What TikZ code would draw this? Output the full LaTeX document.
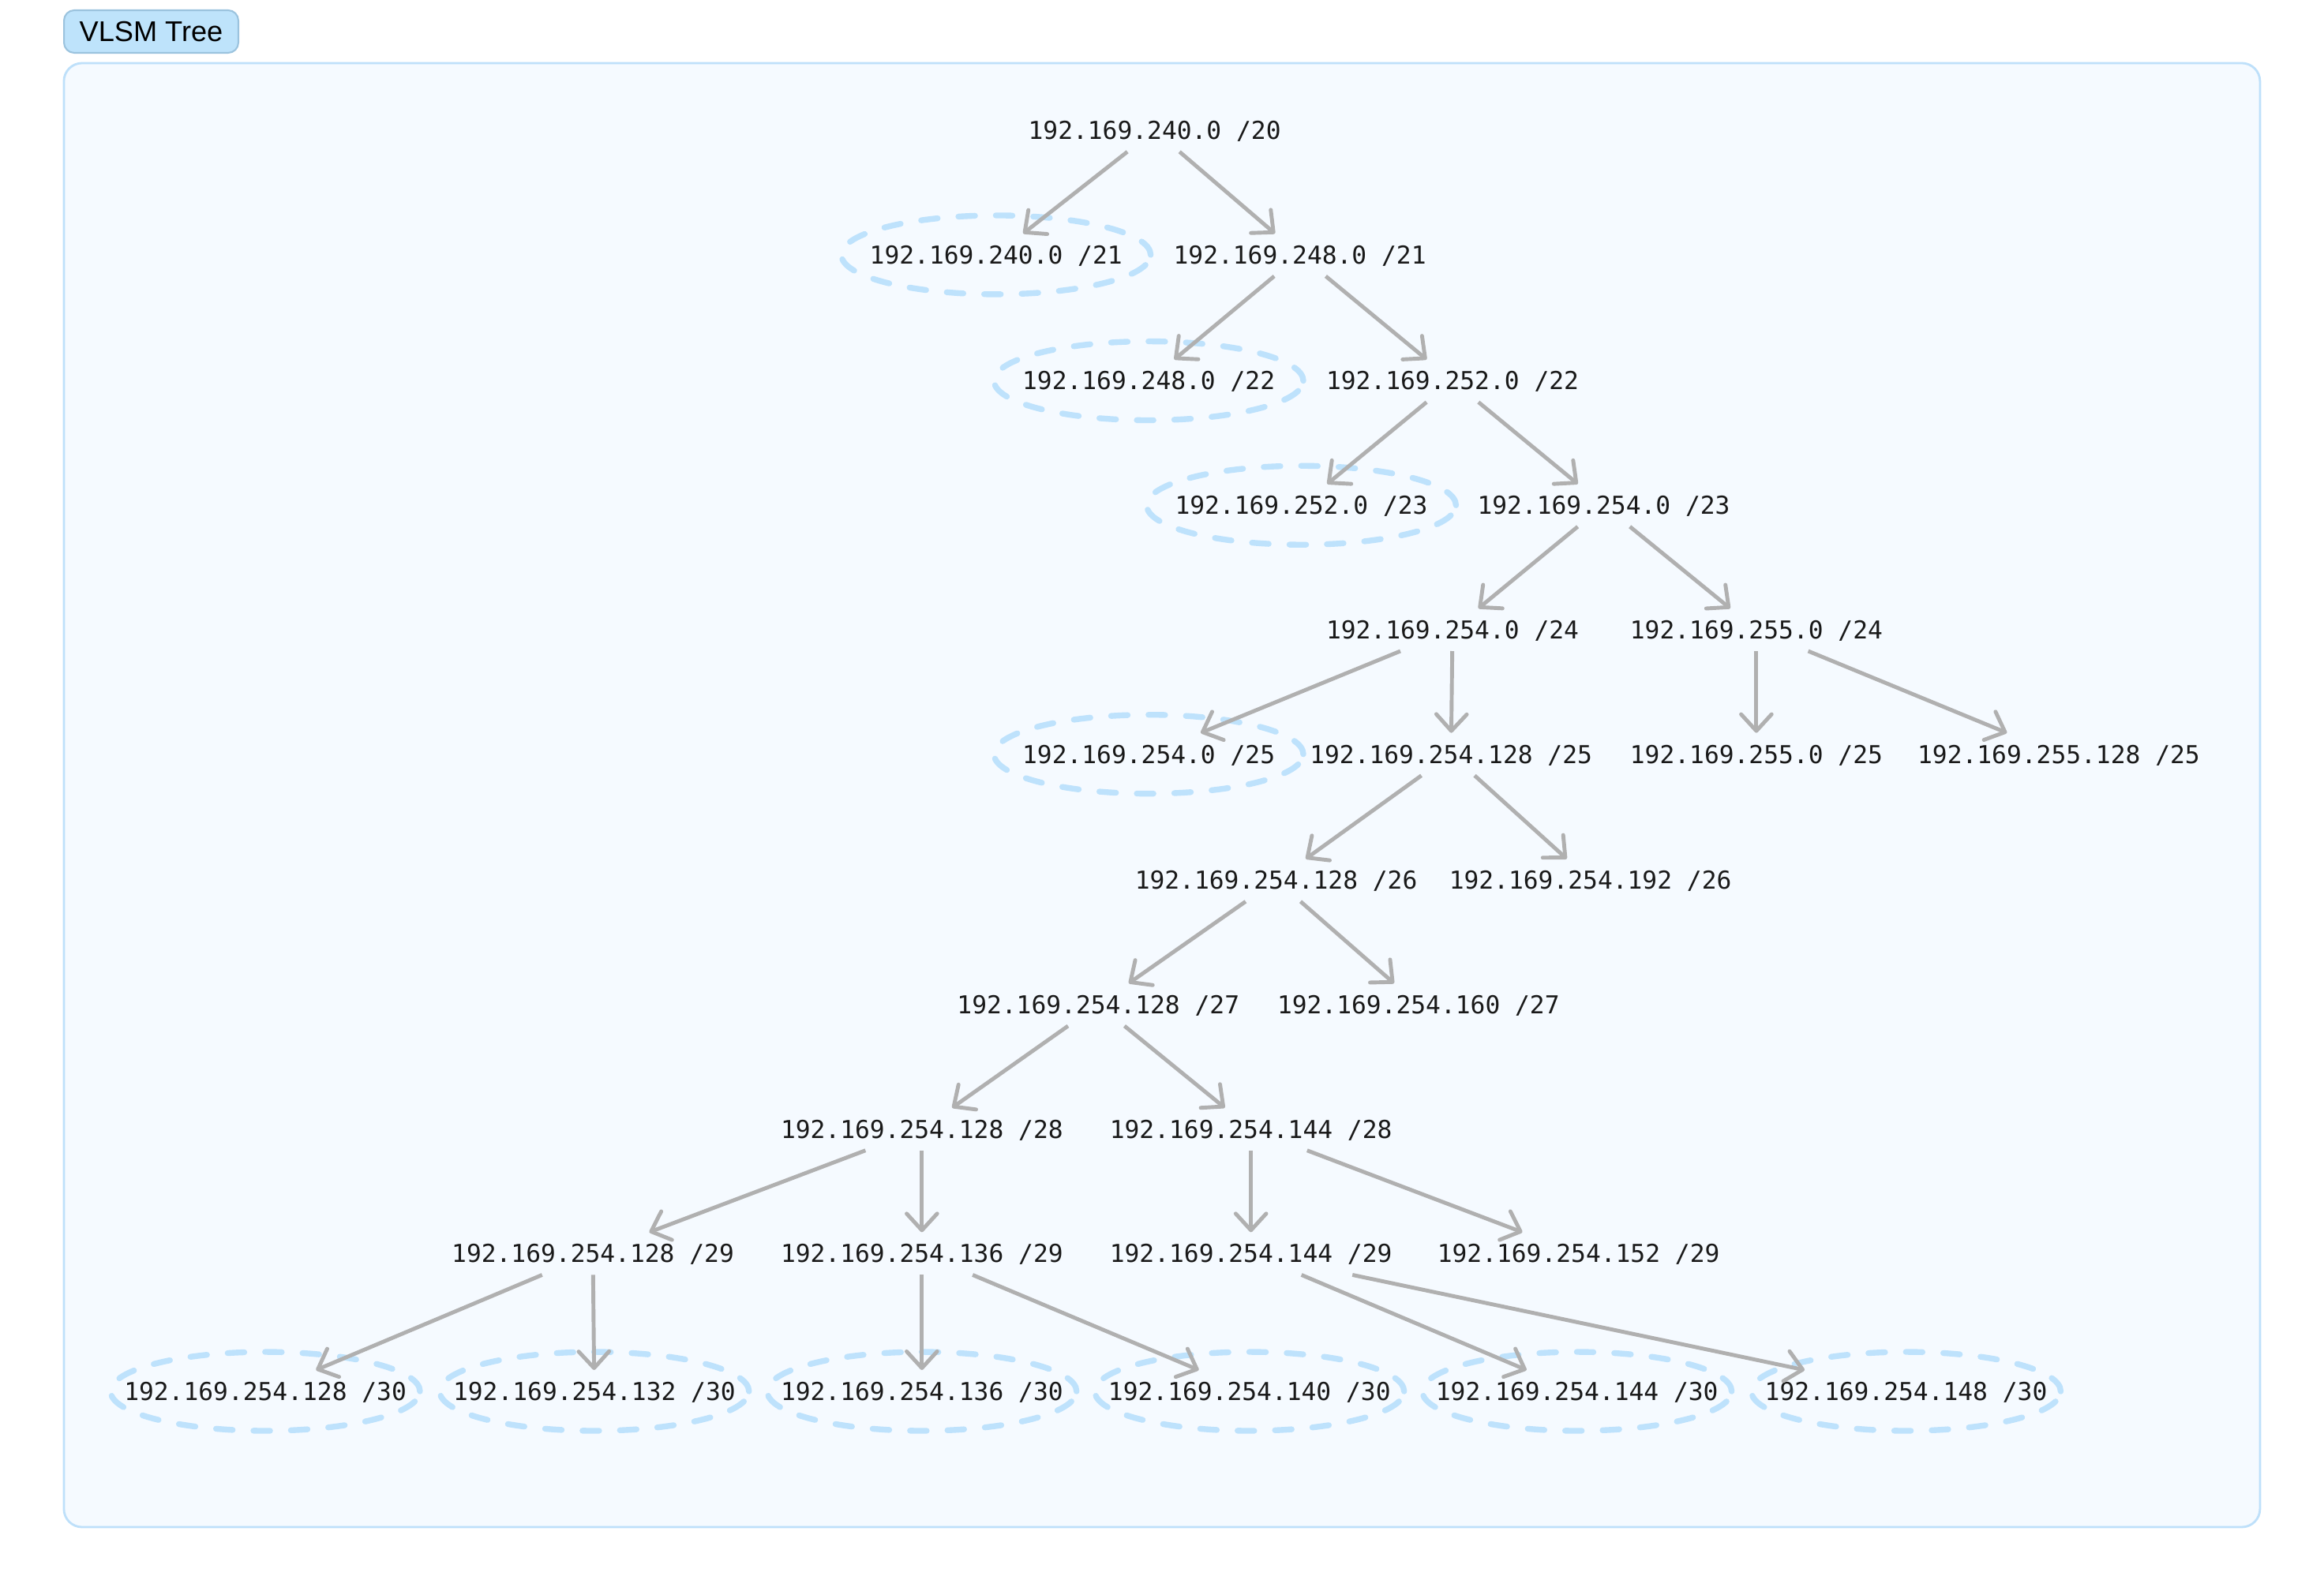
\documentclass[tikz,border=0pt]{standalone}
\usepackage{fontspec}
\setmainfont{Liberation Sans}
\newfontfamily\addrfont{DejaVu Sans Mono}
\usetikzlibrary{arrows.meta}
\definecolor{framefill}{RGB}{245,250,255}
\definecolor{frameline}{RGB}{190,224,250}
\definecolor{badgefill}{RGB}{190,227,251}
\definecolor{badgeline}{RGB}{155,195,222}
\definecolor{ringblue}{RGB}{190,226,252}
\definecolor{edgegray}{RGB}{176,176,176}
\definecolor{addrtext}{RGB}{25,25,25}
\begin{document}
\begin{tikzpicture}[x=0.018776cm,y=-0.018776cm,
    addr/.style={font=\addrfont\fontsize{8.9pt}{10pt}\selectfont,text=addrtext,inner xsep=1pt,inner ysep=0pt,text height=6.5pt,text depth=0pt,minimum height=15pt},
    link/.style={edgegray,line width=1.4pt,-{Straight Barb[round,length=6pt,width=11pt]}},
    ring/.style={ringblue,line width=2.1pt,dash pattern=on 6pt off 7.5pt,line cap=round},
    badge/.style={fill=badgefill,draw=badgeline,line width=0.6pt,rounded corners=0.13cm,minimum width=2.21cm,minimum height=0.54cm,inner sep=0pt,font=\fontsize{10.3pt}{12pt}\selectfont}]
  \useasboundingbox (0,0) rectangle (1568,1073.7);
  % panel and title
  \draw[frameline,fill=framefill,line width=0.8pt,rounded corners=0.23cm] (43.1,42.6) rectangle (1524.8,1030.6);
  \node[badge] (title) at (102,21.3) {VLSM Tree};
  % address blocks, one row per prefix length
  \node[addr] (r20) at (779,88) {192.169.240.0 /20};
  \node[addr] (a21) at (672,172) {192.169.240.0 /21};
  \node[addr] (b21) at (877,172) {192.169.248.0 /21};
  \node[addr] (a22) at (775,257) {192.169.248.0 /22};
  \node[addr] (b22) at (980,257) {192.169.252.0 /22};
  \node[addr] (a23) at (878,341) {192.169.252.0 /23};
  \node[addr] (b23) at (1082,341) {192.169.254.0 /23};
  \node[addr] (a24) at (980,425) {192.169.254.0 /24};
  \node[addr] (b24) at (1185,425) {192.169.255.0 /24};
  \node[addr] (a25) at (775,509) {192.169.254.0 /25};
  \node[addr] (b25) at (979,509) {192.169.254.128 /25};
  \node[addr] (c25) at (1185,509) {192.169.255.0 /25};
  \node[addr] (d25) at (1389,509) {192.169.255.128 /25};
  \node[addr] (a26) at (861,594) {192.169.254.128 /26};
  \node[addr] (b26) at (1073,594) {192.169.254.192 /26};
  \node[addr] (a27) at (741,678) {192.169.254.128 /27};
  \node[addr] (b27) at (957,678) {192.169.254.160 /27};
  \node[addr] (a28) at (622,762) {192.169.254.128 /28};
  \node[addr] (b28) at (844,762) {192.169.254.144 /28};
  \node[addr] (a29) at (400,846) {192.169.254.128 /29};
  \node[addr] (b29) at (622,846) {192.169.254.136 /29};
  \node[addr] (c29) at (844,846) {192.169.254.144 /29};
  \node[addr] (d29) at (1065,846) {192.169.254.152 /29};
  \node[addr] (a30) at (179,939) {192.169.254.128 /30};
  \node[addr] (b30) at (401,939) {192.169.254.132 /30};
  \node[addr] (c30) at (622,939) {192.169.254.136 /30};
  \node[addr] (d30) at (843,939) {192.169.254.140 /30};
  \node[addr] (e30) at (1064,939) {192.169.254.144 /30};
  \node[addr] (f30) at (1286,939) {192.169.254.148 /30};
  % assigned blocks
  \foreach \n in {a21,a22,a23,a25,a30,b30,c30,d30,e30,f30}
    \draw[ring] (\n) ellipse [x radius=1.96cm,y radius=0.5cm];
  % splits
  \foreach \p/\c in {r20/a21,r20/b21,b21/a22,b21/b22,b22/a23,b22/b23,b23/a24,b23/b24,
      a24/a25,a24/b25,b24/c25,b24/d25,b25/a26,b25/b26,a26/a27,a26/b27,a27/a28,a27/b28,
      a28/a29,a28/b29,b28/c29,b28/d29,a29/a30,a29/b30,b29/c30,b29/d30,c29/e30,c29/f30}
    \draw[link] (\p) -- (\c);
\end{tikzpicture}
\end{document}
